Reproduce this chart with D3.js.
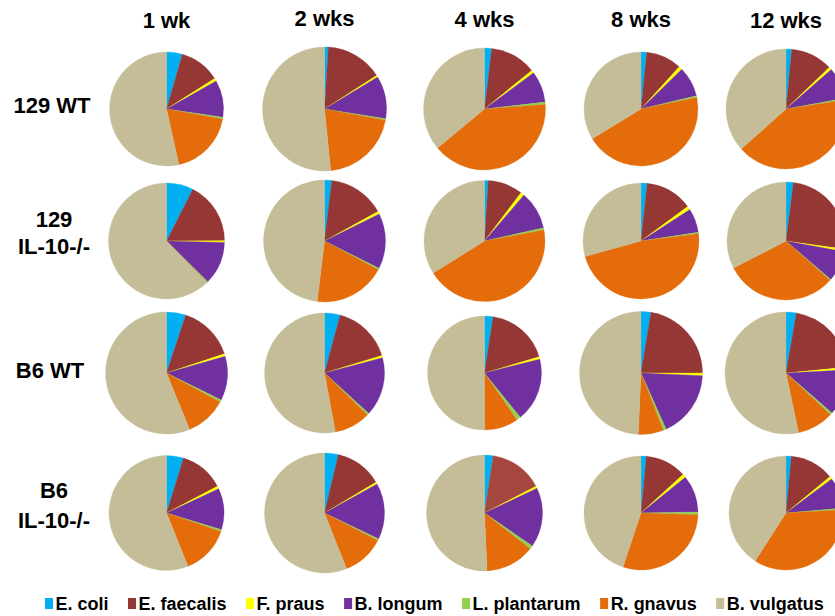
<!DOCTYPE html>
<html>
<head>
<meta charset="utf-8">
<script src="https://cdn.jsdelivr.net/npm/d3@7"></script>
<style>
  html, body { margin: 0; padding: 0; background: #fff; }
  svg { display: block; }
  text { font-family: "Liberation Sans", Arial, sans-serif; font-weight: bold; fill: #000; }
</style>
</head>
<body>
<svg id="chart" width="835" height="616"></svg>
<script>
// Relative abundance (%) of the seven-member consortium, per strain and time point
const species = ["E. coli", "E. faecalis", "F. praus", "B. longum", "L. plantarum", "R. gnavus", "B. vulgatus"];
const timepoints = ["1 wk", "2 wks", "4 wks", "8 wks", "12 wks"];
const strainLabels = [["129 WT"], ["129", "IL-10-/-"], ["B6 WT"], ["B6", "IL-10-/-"]];

// each row: one array per time point, values in species order
const wt129 = [
  [4.5, 11.5, 0.8, 10.5, 0.5, 18.7, 53.5],
  [1.0, 14.9, 0.5, 11.1, 0.4, 20.5, 51.6],
  [1.9, 12.2, 0.8, 8.3, 0.6, 40.2, 36.0],
  [1.6, 10.1, 1.0, 8.6, 0.5, 44.5, 33.7],
  [1.5, 11.3, 0.8, 8.5, 0.5, 40.8, 36.6]
];
const il10ko129 = [
  [7.5, 17.4, 0.5, 12.0, 0.3, 0.0, 62.3],
  [1.9, 15.1, 0.7, 14.7, 0.4, 19.1, 48.1],
  [1.0, 9.3, 1.0, 10.2, 0.6, 44.0, 33.9],
  [1.7, 13.2, 1.0, 6.7, 0.4, 47.7, 29.3],
  [2.0, 25.2, 0.7, 8.4, 0.3, 30.8, 32.6]
];
const wtB6 = [
  [5.1, 14.8, 0.7, 11.7, 0.6, 10.9, 56.2],
  [4.2, 16.1, 0.6, 15.9, 0.5, 9.8, 52.9],
  [2.4, 18.0, 0.7, 18.1, 1.2, 9.6, 50.0],
  [2.6, 22.4, 0.7, 17.6, 0.8, 6.6, 49.3],
  [2.7, 20.8, 0.7, 12.2, 0.6, 9.7, 53.3]
];
const il10koB6 = [
  [4.8, 12.5, 0.8, 11.6, 0.5, 13.7, 56.1],
  [3.7, 12.7, 0.6, 15.1, 0.5, 11.4, 56.0],
  [2.4, 15.0, 0.6, 16.6, 1.0, 13.7, 50.7],
  [1.5, 11.7, 1.0, 10.5, 0.8, 29.6, 44.9],
  [1.5, 12.5, 0.8, 8.8, 0.5, 35.0, 40.9]
];
const rows = [wt129, il10ko129, wtB6, il10koB6];

// ---- styling and layout ----
const speciesColors = ["#00B0F0", "#953735", "#FFFF00", "#7030A0", "#92D050", "#E46C0A", "#C4BD97"];
// the B6 IL-10-/- 4 wk E. faecalis wedge is drawn in a lighter red
const colorOverrides = [{ row: 3, col: 2, species: "E. faecalis", color: "#A5473F" }];

const pieRadius = [
  [57, 62, 61, 57, 60],
  [58, 61, 60.5, 58, 59],
  [61, 60, 57, 61.5, 61],
  [57.5, 60, 58, 57, 57]
];

const svg = d3.select("#chart");

const xCol = d3.scaleOrdinal().domain(timepoints).range([166.5, 324.5, 484.5, 641, 786]);
const yRow = d3.scaleOrdinal().domain(d3.range(rows.length)).range([109, 241, 373, 513]);
const color = d3.scaleOrdinal().domain(species).range(speciesColors);

const pie = d3.pie().sort(null).value(d => d.value);
const arc = d3.arc().innerRadius(0);

// column headers
const headerBaseline = [28, 26, 26.5, 26.5, 27.5];
svg.append("g").selectAll("text")
  .data(timepoints)
  .join("text")
  .attr("x", d => xCol(d))
  .attr("y", (d, i) => headerBaseline[i])
  .attr("text-anchor", "middle")
  .style("font-size", "22px")
  .text(d => d);

// row labels
const labelBaselines = [[113], [227, 254], [378], [498, 528]];
const labelX = [52, 54, 50, 54];
strainLabels.forEach((lines, r) => {
  const t = svg.append("text")
    .attr("text-anchor", "middle")
    .style("font-size", "22px");
  lines.forEach((line, k) => {
    t.append("tspan")
      .attr("x", labelX[r])
      .attr("y", labelBaselines[r][k])
      .text(line);
  });
});

// pies
const sliceFill = (r, c, name) => {
  const o = colorOverrides.find(o => o.row === r && o.col === c && o.species === name);
  return o ? o.color : color(name);
};
rows.forEach((row, r) => {
  row.forEach((vals, c) => {
    const rad = pieRadius[r][c];
    const data = species.map((s, k) => ({ species: s, value: vals[k] }));
    const g = svg.append("g")
      .attr("transform", `translate(${xCol(timepoints[c])},${yRow(r)})`);
    g.selectAll("path")
      .data(pie(data))
      .join("path")
      .attr("d", d => arc.outerRadius(rad)(d))
      .attr("fill", d => sliceFill(r, c, d.data.species))
      .attr("stroke", d => sliceFill(r, c, d.data.species))
      .attr("stroke-width", 0.3);
  });
});

// legend
const legend = svg.append("g").attr("transform", "translate(45,0)");
let lx = 0;
species.forEach(s => {
  const item = legend.append("g").attr("transform", `translate(${lx},0)`);
  item.append("rect")
    .attr("x", 0).attr("y", 598)
    .attr("width", 8).attr("height", 11)
    .attr("fill", color(s));
  const t = item.append("text")
    .attr("x", 10.5).attr("y", 610)
    .style("font-size", "18px")
    .text(s);
  lx += 10.5 + t.node().getComputedTextLength() + 19.5;
});
</script>
</body>
</html>
